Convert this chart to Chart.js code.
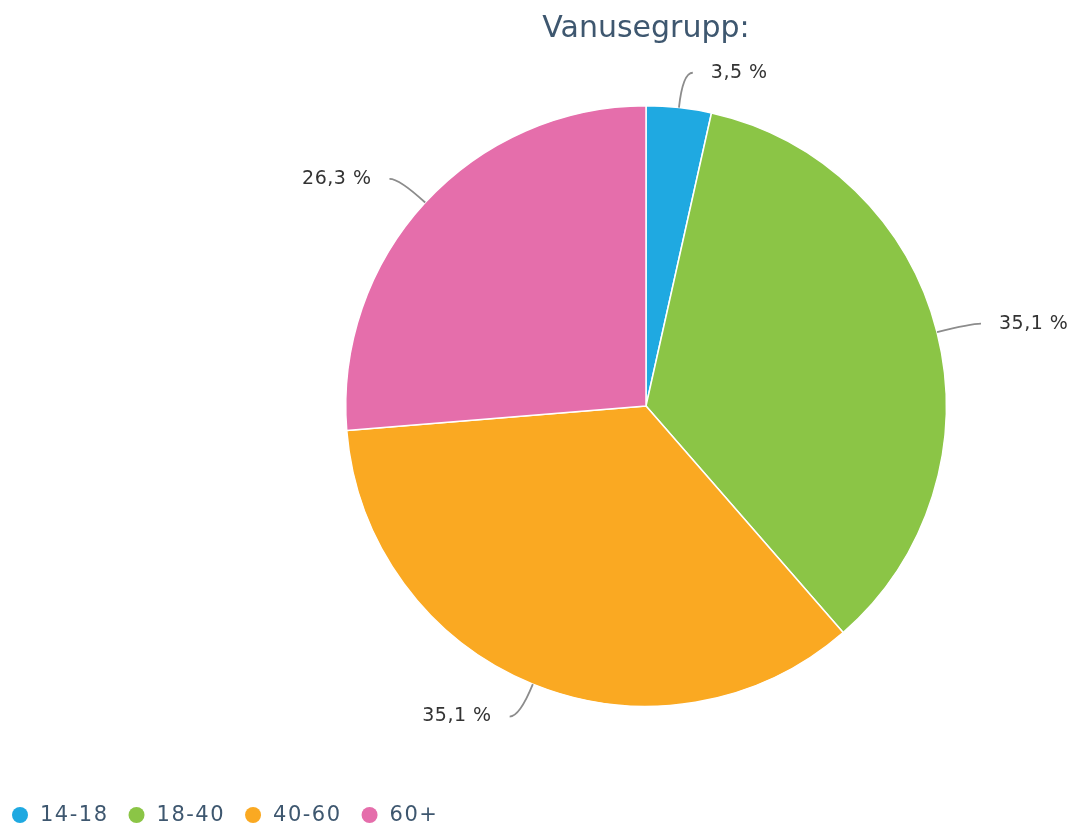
<!DOCTYPE html>
<html><head><meta charset="utf-8">
<script src="https://cdn.jsdelivr.net/npm/chart.js@4.4.1/dist/chart.umd.min.js"></script>
<style>html,body{margin:0;padding:0;background:#fff;}#wrap{width:1076px;height:827px;position:relative;}</style>
</head><body><div id="wrap"><canvas id="c" width="1076" height="827"></canvas></div>
<script>
const chartTitle = 'Vanusegrupp:';
const categories = ['14-18', '18-40', '40-60', '60+'];
const shares = [3.5, 35.1, 35.1, 26.3];
const colors = ['#1fa9e1', '#8bc546', '#faa922', '#e56eab'];

const fmt = v => v.toFixed(1).replace('.', ',') + ' %';

const overlay = {
  id: 'overlay',
  afterDraw(chart) {
    const ctx = chart.ctx;
    const meta = chart.getDatasetMeta(0);
    const ca = chart.chartArea;
    ctx.save();
    meta.data.forEach((arc, i) => {
      const p = arc.getProps(['x', 'y', 'startAngle', 'endAngle', 'outerRadius'], true);
      const a = (p.startAngle + p.endAngle) / 2;
      const c = Math.cos(a), s = Math.sin(a);
      const ex = p.x + p.outerRadius * c, ey = p.y + p.outerRadius * s;
      const px = p.x + (p.outerRadius + 35) * c, py = p.y + (p.outerRadius + 35) * s;
      const right = c >= 0;
      const hx = px + (right ? 10 : -10);
      ctx.beginPath();
      ctx.moveTo(ex, ey);
      ctx.quadraticCurveTo(px, py, hx, py);
      ctx.strokeStyle = '#8c8c8c';
      ctx.lineWidth = 1.8;
      ctx.stroke();
      ctx.font = '19px "DejaVu Sans", sans-serif';
      ctx.letterSpacing = '0.5px';
      ctx.fillStyle = '#333333';
      ctx.textBaseline = 'middle';
      ctx.textAlign = right ? 'left' : 'right';
      ctx.fillText(fmt(chart.data.datasets[0].data[i]), hx + (right ? 18 : -18), py);
    });
    // title
    ctx.letterSpacing = '0px';
    ctx.font = '30px "DejaVu Sans", sans-serif';
    ctx.fillStyle = '#3e576f';
    ctx.textAlign = 'center';
    ctx.textBaseline = 'alphabetic';
    ctx.fillText(chartTitle, (ca.left + ca.right) / 2, 37);
    // legend
    ctx.font = '21px "DejaVu Sans", sans-serif';
    ctx.letterSpacing = '1.5px';
    ctx.textBaseline = 'middle';
    ctx.textAlign = 'left';
    let x = 10;
    const ly = 815;
    chart.data.labels.forEach((lab, i) => {
      ctx.beginPath();
      ctx.arc(x + 10, ly, 8, 0, Math.PI * 2);
      ctx.fillStyle = colors[i];
      ctx.fill();
      ctx.fillStyle = '#3e576f';
      ctx.fillText(lab, x + 30, ly + 1);
      x += 30 + ctx.measureText(lab).width + 18;
    });
    ctx.restore();
  }
};

new Chart(document.getElementById('c'), {
  type: 'pie',
  data: {
    labels: categories,
    datasets: [{
      data: shares,
      backgroundColor: colors,
      borderColor: '#ffffff',
      borderWidth: 1.5
    }]
  },
  options: {
    responsive: false,
    animation: false,
    layout: { padding: { top: 105, bottom: 120, left: 345, right: 129 } },
    plugins: { legend: { display: false }, title: { display: false } }
  },
  plugins: [overlay]
});
</script>
</body></html>
